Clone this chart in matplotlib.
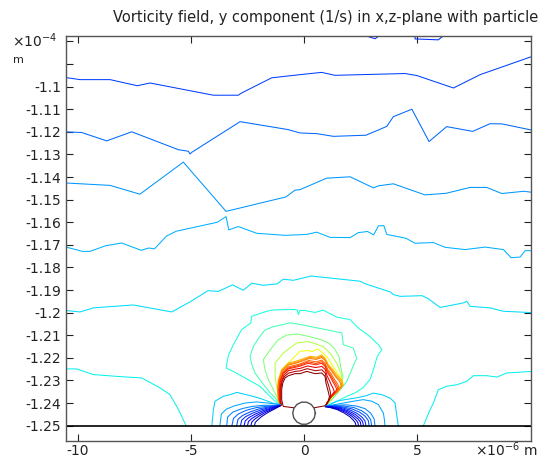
import numpy as np
import matplotlib.pyplot as plt

# x in micrometres (x1e-6 m), z in units of 1e-4 m
# every contour is a list of (x, z) vertices; "lvl" is the position on the colour table (0..1)

# far field, top to bottom
top_frag_1 = [(2.25, -1.0760), (3.14, -1.0788), (3.55, -1.0760)]
top_frag_2 = [(4.91, -1.0760), (4.91, -1.0789), (5.94, -1.0793), (6.35, -1.0760)]
line_a = [(-10.6, -1.0959), (-9.91, -1.0969), (-8.58, -1.0969), (-7.38, -1.0996), (-6.81, -1.0984),
          (-4.01, -1.1038), (-2.91, -1.1038), (-2.76, -1.1028), (-1.43, -1.0961), (-0.18, -1.0947),
          (0.78, -1.0937), (1.37, -1.0950), (4.47, -1.0942), (4.99, -1.0951), (6.61, -1.1006),
          (7.79, -1.0947), (10.1, -1.0866)]
line_b = [(-10.6, -1.1200), (-9.84, -1.1203), (-8.73, -1.1240), (-7.62, -1.1200), (-5.56, -1.1279),
          (-5.12, -1.1286), (-5.04, -1.1298), (-4.97, -1.1291), (-2.83, -1.1155), (-0.71, -1.1190),
          (-0.18, -1.1205), (0.56, -1.1208), (1.30, -1.1220), (2.74, -1.1215), (3.66, -1.1176),
          (3.95, -1.1133), (4.77, -1.1100), (5.53, -1.1243), (6.31, -1.1177), (7.46, -1.1198),
          (8.23, -1.1164), (8.76, -1.1165), (10.1, -1.1193)]
line_c = [(-10.6, -1.1426), (-8.58, -1.1437), (-7.26, -1.1476), (-5.34, -1.1334), (-3.45, -1.1552),
          (-0.80, -1.1488), (-0.40, -1.1458), (-0.18, -1.1456), (1.00, -1.1405), (2.04, -1.1399),
          (3.07, -1.1448), (3.29, -1.1439), (3.95, -1.1430), (5.35, -1.1479), (6.28, -1.1472),
          (7.35, -1.1446), (8.08, -1.1446), (8.75, -1.1473), (9.73, -1.1463), (10.1, -1.1468)]
line_d = [(-10.6, -1.1708), (-9.80, -1.1729), (-9.47, -1.1729), (-8.78, -1.1704), (-8.07, -1.1692),
          (-7.21, -1.1724), (-6.86, -1.1714), (-6.62, -1.1718), (-6.08, -1.1661), (-5.66, -1.1640),
          (-3.83, -1.1600), (-3.45, -1.1575), (-3.33, -1.1634), (-2.91, -1.1619), (-2.09, -1.1649),
          (-0.84, -1.1658), (0.12, -1.1654), (0.56, -1.1644), (1.15, -1.1667), (2.04, -1.1668),
          (2.40, -1.1646), (2.81, -1.1641), (3.08, -1.1656), (3.29, -1.1616), (3.53, -1.1615),
          (3.66, -1.1654), (4.51, -1.1671), (4.91, -1.1693), (5.72, -1.1690), (6.24, -1.1711),
          (7.12, -1.1721), (8.01, -1.1710), (8.82, -1.1721), (9.16, -1.1757), (9.56, -1.1754),
          (9.78, -1.1726), (10.1, -1.1726)]
line_e = [(-10.6, -1.1990), (-9.91, -1.1997), (-9.32, -1.1979), (-7.55, -1.1966), (-5.85, -1.1997),
          (-5.02, -1.1951), (-4.25, -1.1903), (-3.79, -1.1906), (-3.16, -1.1877), (-2.69, -1.1901),
          (-2.31, -1.1870), (-1.80, -1.1879), (-1.19, -1.1873), (-0.92, -1.1852), (-0.47, -1.1857),
          (0.31, -1.1838), (2.48, -1.1861), (2.70, -1.1872), (3.83, -1.1909), (3.95, -1.1920),
          (4.25, -1.1928), (5.22, -1.1925), (5.49, -1.1938), (6.02, -1.1977), (7.05, -1.1957),
          (7.20, -1.1950), (7.35, -1.1972), (8.23, -1.1979), (8.82, -1.1994), (10.1, -1.2000)]
line_f = [(-10.6, -1.2249), (-10.06, -1.2249), (-9.32, -1.2274), (-8.29, -1.2282), (-7.18, -1.2289),
          (-6.37, -1.2333), (-5.93, -1.2363), (-5.63, -1.2415), (-5.41, -1.2459), (-5.22, -1.2500)]
line_g = [(5.28, -1.2500), (5.58, -1.2429), (5.72, -1.2400), (5.94, -1.2341), (6.31, -1.2326),
          (6.76, -1.2319), (7.20, -1.2304), (7.49, -1.2279), (8.08, -1.2279), (8.53, -1.2285),
          (8.97, -1.2267), (10.1, -1.2260)]
far_lines = [top_frag_1, top_frag_2, line_a, line_b, line_c, line_d, line_e, line_f, line_g]
far_lvl = [0.17, 0.17, 0.19, 0.23, 0.27, 0.30, 0.34, 0.36, 0.36]

# contours wrapping over the particle, outer (cyan) to inner (dark red)
cap_cyan = [(-1.06, -1.2407), (-1.28, -1.2392), (-1.58, -1.2363), (-1.95, -1.2326), (-2.61, -1.2289),
            (-3.13, -1.2260), (-3.45, -1.2245), (-3.41, -1.2223), (-3.35, -1.2190), (-3.19, -1.2155),
            (-3.13, -1.2142), (-2.76, -1.2075), (-2.36, -1.2046), (-2.31, -1.2016), (-1.65, -1.1994),
            (-1.36, -1.1988), (-0.47, -1.1986), (-0.30, -1.1988), (-0.25, -1.2009), (-0.18, -1.1990),
            (0.04, -1.1991), (0.49, -1.1999), (0.85, -1.1989), (1.45, -1.2020), (2.04, -1.2031),
            (2.40, -1.2068), (2.92, -1.2106), (3.29, -1.2142), (3.44, -1.2164), (3.24, -1.2193),
            (3.07, -1.2252), (2.92, -1.2296), (2.60, -1.2333), (2.26, -1.2355), (1.89, -1.2370),
            (1.59, -1.2385), (1.30, -1.2400), (0.95, -1.2414)]
cap_teal = [(-1.06, -1.2407), (-1.28, -1.2377), (-1.50, -1.2355), (-1.73, -1.2326), (-1.95, -1.2297),
            (-2.17, -1.2267), (-2.31, -1.2230), (-2.39, -1.2193), (-2.24, -1.2149), (-1.95, -1.2105),
            (-1.73, -1.2077), (-1.35, -1.2062), (-0.60, -1.2045), (-0.18, -1.2052), (0.60, -1.2068),
            (1.20, -1.2080), (1.67, -1.2090), (1.74, -1.2142), (2.18, -1.2157), (2.33, -1.2202),
            (2.11, -1.2252), (1.89, -1.2304), (1.67, -1.2333), (1.30, -1.2377), (0.95, -1.2414)]
cap_green = [(-1.06, -1.2407), (-1.21, -1.2370), (-1.36, -1.2341), (-1.58, -1.2296), (-1.73, -1.2252),
             (-1.80, -1.2208), (-1.50, -1.2165), (-1.14, -1.2120), (-0.77, -1.2099), (-0.30, -1.2095),
             (0.20, -1.2105), (0.70, -1.2118), (1.10, -1.2135), (1.35, -1.2160), (1.55, -1.2195),
             (1.62, -1.2240), (1.72, -1.2285), (1.65, -1.2320), (1.35, -1.2365), (1.10, -1.2395),
             (0.95, -1.2414)]
cap_lime = [(-1.06, -1.2407), (-1.21, -1.2326), (-1.28, -1.2282), (-1.28, -1.2223), (-0.92, -1.2179),
            (-0.32, -1.2134), (0.20, -1.2128), (0.55, -1.2140), (0.85, -1.2150), (1.20, -1.2185),
            (1.45, -1.2225), (1.65, -1.2275), (1.70, -1.2310), (1.40, -1.2355), (1.10, -1.2395),
            (0.95, -1.2414)]
cap_yellow = [(-1.06, -1.2407), (-1.06, -1.2311), (-0.99, -1.2252), (-0.62, -1.2215), (-0.18, -1.2171),
              (0.15, -1.2168), (0.38, -1.2172), (0.60, -1.2160), (0.85, -1.2180), (1.05, -1.2200),
              (1.30, -1.2240), (1.60, -1.2285), (1.72, -1.2318), (1.35, -1.2360), (1.05, -1.2400),
              (0.95, -1.2414)]
red_1 = [(-1.06, -1.2407), (-1.14, -1.2386), (-1.18, -1.2342), (-1.14, -1.2298), (-0.99, -1.2253),
         (-0.69, -1.2223), (-0.40, -1.2216), (-0.18, -1.2209), (0.27, -1.2193), (0.56, -1.2197),
         (0.78, -1.2187), (0.93, -1.2202), (1.08, -1.2231), (1.23, -1.2246), (1.45, -1.2275),
         (1.67, -1.2298), (1.74, -1.2320), (1.52, -1.2348), (1.23, -1.2370), (1.08, -1.2392),
         (0.95, -1.2414)]
red_2 = [(-1.05, -1.2408), (-1.13, -1.2386), (-1.16, -1.2342), (-1.12, -1.2299), (-0.97, -1.2256),
         (-0.69, -1.2228), (-0.40, -1.2221), (-0.18, -1.2214), (0.25, -1.2198), (0.55, -1.2202),
         (0.78, -1.2193), (0.93, -1.2207), (1.07, -1.2236), (1.21, -1.2251), (1.41, -1.2279),
         (1.62, -1.2301), (1.69, -1.2323), (1.48, -1.2350), (1.21, -1.2371), (1.07, -1.2393),
         (0.95, -1.2414)]
red_3 = [(-1.05, -1.2408), (-1.12, -1.2386), (-1.15, -1.2342), (-1.11, -1.2300), (-0.96, -1.2258),
         (-0.69, -1.2232), (-0.40, -1.2225), (-0.18, -1.2218), (0.24, -1.2203), (0.55, -1.2207),
         (0.78, -1.2198), (0.93, -1.2212), (1.07, -1.2240), (1.20, -1.2256), (1.38, -1.2282),
         (1.58, -1.2305), (1.65, -1.2326), (1.45, -1.2352), (1.20, -1.2372), (1.06, -1.2393),
         (0.95, -1.2414)]
red_4 = [(-1.04, -1.2408), (-1.10, -1.2386), (-1.12, -1.2342), (-1.08, -1.2302), (-0.94, -1.2264),
         (-0.69, -1.2240), (-0.40, -1.2233), (-0.18, -1.2227), (0.21, -1.2212), (0.54, -1.2218),
         (0.78, -1.2210), (0.93, -1.2225), (1.05, -1.2252), (1.18, -1.2268), (1.32, -1.2292),
         (1.48, -1.2315), (1.55, -1.2332), (1.38, -1.2356), (1.18, -1.2375), (1.05, -1.2394),
         (0.95, -1.2414)]
red_5 = [(-1.04, -1.2409), (-1.09, -1.2386), (-1.10, -1.2342), (-1.06, -1.2303), (-0.93, -1.2267),
         (-0.69, -1.2245), (-0.40, -1.2238), (-0.18, -1.2232), (0.20, -1.2218), (0.53, -1.2225),
         (0.78, -1.2217), (0.93, -1.2231), (1.04, -1.2258), (1.16, -1.2275), (1.29, -1.2298),
         (1.43, -1.2320), (1.50, -1.2336), (1.34, -1.2358), (1.17, -1.2377), (1.05, -1.2395),
         (0.95, -1.2414)]
red_6 = [(-1.03, -1.2409), (-1.08, -1.2386), (-1.09, -1.2342), (-1.05, -1.2304), (-0.92, -1.2270),
         (-0.69, -1.2249), (-0.40, -1.2242), (-0.18, -1.2237), (0.18, -1.2224), (0.52, -1.2231),
         (0.78, -1.2224), (0.93, -1.2238), (1.03, -1.2265), (1.15, -1.2282), (1.26, -1.2303),
         (1.38, -1.2324), (1.45, -1.2340), (1.30, -1.2360), (1.16, -1.2378), (1.04, -1.2396),
         (0.95, -1.2414)]
red_7 = [(-1.02, -1.2410), (-1.06, -1.2386), (-1.06, -1.2341), (-1.01, -1.2305), (-0.89, -1.2276),
         (-0.69, -1.2257), (-0.40, -1.2250), (-0.18, -1.2247), (0.16, -1.2236), (0.51, -1.2243),
         (0.79, -1.2238), (0.94, -1.2252), (1.02, -1.2280), (1.12, -1.2300), (1.20, -1.2318),
         (1.29, -1.2336), (1.34, -1.2350), (1.22, -1.2366), (1.13, -1.2382), (1.02, -1.2398),
         (0.95, -1.2414)]
red_8 = [(-1.00, -1.2410), (-1.03, -1.2385), (-1.03, -1.2340), (-0.98, -1.2307), (-0.87, -1.2283),
         (-0.69, -1.2268), (-0.40, -1.2260), (-0.18, -1.2258), (0.14, -1.2248), (0.50, -1.2257),
         (0.79, -1.2253), (0.94, -1.2268), (1.00, -1.2296), (1.08, -1.2320), (1.15, -1.2345),
         (1.18, -1.2362), (1.12, -1.2385), (0.95, -1.2413)]
red_9 = [(-0.45, -1.2421), (-0.92, -1.2415), (-0.99, -1.2385), (-0.99, -1.2341), (-0.94, -1.2311),
         (-0.84, -1.2289), (-0.69, -1.2279), (-0.40, -1.2270), (-0.18, -1.2270), (0.12, -1.2260),
         (0.49, -1.2270), (0.78, -1.2267), (0.93, -1.2282), (0.97, -1.2311), (1.05, -1.2341),
         (1.12, -1.2370), (1.08, -1.2392), (0.93, -1.2412), (0.45, -1.2421)]
cap_lines = [cap_cyan, cap_teal, cap_green, cap_lime, cap_yellow,
             red_1, red_2, red_3, red_4, red_5, red_6, red_7, red_8, red_9]
cap_lvl = [0.38, 0.43, 0.50, 0.57, 0.64, 0.72, 0.75, 0.78, 0.81, 0.84, 0.87, 0.91, 0.95, 0.99]

# negative lobes between the particle and the wall, outer (light blue) to inner (navy)
lobe_l = [
    [(-4.08, -1.2500), (-4.01, -1.2429), (-3.94, -1.2392), (-3.57, -1.2370), (-3.27, -1.2363),
     (-2.98, -1.2353), (-2.76, -1.2358), (-2.39, -1.2367), (-1.95, -1.2379), (-1.36, -1.2401), (-1.06, -1.2407)],
    [(-3.72, -1.2500), (-3.66, -1.2449), (-3.45, -1.2428), (-3.10, -1.2413), (-2.60, -1.2400),
     (-2.10, -1.2395), (-1.60, -1.2400), (-1.06, -1.2407)],
    [(-3.42, -1.2500), (-3.38, -1.2462), (-3.15, -1.2440), (-2.75, -1.2425), (-2.30, -1.2415),
     (-1.80, -1.2410), (-1.30, -1.2410), (-1.06, -1.2409)],
    [(-3.19, -1.2500), (-3.12, -1.2468), (-2.90, -1.2448), (-2.55, -1.2432), (-2.10, -1.2420),
     (-1.60, -1.2414), (-1.06, -1.2410)],
    [(-2.98, -1.2500), (-2.92, -1.2472), (-2.72, -1.2455), (-2.40, -1.2440), (-2.00, -1.2426),
     (-1.50, -1.2416), (-1.06, -1.2410)],
    [(-2.81, -1.2500), (-2.76, -1.2476), (-2.58, -1.2460), (-2.28, -1.2445), (-1.90, -1.2430),
     (-1.45, -1.2418), (-1.06, -1.2411)],
    [(-2.65, -1.2500), (-2.60, -1.2479), (-2.45, -1.2465), (-2.18, -1.2450), (-1.82, -1.2434),
     (-1.40, -1.2420), (-1.06, -1.2411)],
    [(-2.50, -1.2500), (-2.46, -1.2482), (-2.32, -1.2469), (-2.08, -1.2454), (-1.75, -1.2437),
     (-1.36, -1.2422), (-1.06, -1.2412)],
    [(-2.35, -1.2500), (-2.31, -1.2484), (-2.19, -1.2472), (-1.98, -1.2457), (-1.68, -1.2440),
     (-1.32, -1.2424), (-1.06, -1.2412)],
    [(-2.19, -1.2500), (-2.16, -1.2486), (-2.05, -1.2475), (-1.88, -1.2460), (-1.60, -1.2442),
     (-1.28, -1.2425), (-1.06, -1.2413)],
]
lobe_r = [
    [(4.17, -1.2500), (4.08, -1.2440), (4.03, -1.2400), (3.81, -1.2378), (3.44, -1.2363),
     (3.07, -1.2356), (2.77, -1.2367), (2.33, -1.2377), (1.81, -1.2385), (1.45, -1.2392), (0.95, -1.2414)],
    [(3.58, -1.2500), (3.55, -1.2470), (3.51, -1.2445), (3.29, -1.2407), (3.00, -1.2392),
     (2.62, -1.2385), (2.18, -1.2392), (1.74, -1.2400), (1.30, -1.2408), (0.95, -1.2414)],
    [(3.14, -1.2500), (3.10, -1.2470), (2.95, -1.2445), (2.70, -1.2425), (2.30, -1.2413),
     (1.85, -1.2408), (1.40, -1.2410), (0.95, -1.2414)],
    [(2.99, -1.2500), (2.95, -1.2474), (2.80, -1.2452), (2.55, -1.2434), (2.20, -1.2420),
     (1.75, -1.2413), (1.35, -1.2412), (0.95, -1.2415)],
    [(2.88, -1.2500), (2.84, -1.2477), (2.70, -1.2458), (2.45, -1.2440), (2.12, -1.2426),
     (1.70, -1.2417), (1.30, -1.2414), (0.95, -1.2415)],
    [(2.74, -1.2500), (2.70, -1.2480), (2.57, -1.2463), (2.35, -1.2446), (2.04, -1.2431),
     (1.65, -1.2420), (1.25, -1.2416), (0.95, -1.2415)],
    [(2.63, -1.2500), (2.59, -1.2482), (2.47, -1.2467), (2.26, -1.2450), (1.97, -1.2435),
     (1.60, -1.2423), (1.22, -1.2417), (0.95, -1.2415)],
    [(2.52, -1.2500), (2.49, -1.2484), (2.38, -1.2470), (2.18, -1.2454), (1.90, -1.2438),
     (1.55, -1.2425), (1.20, -1.2418), (0.95, -1.2416)],
    [(2.41, -1.2500), (2.38, -1.2486), (2.28, -1.2473), (2.10, -1.2457), (1.84, -1.2441),
     (1.50, -1.2427), (1.18, -1.2419), (0.95, -1.2416)],
    [(2.30, -1.2500), (2.27, -1.2488), (2.18, -1.2476), (2.02, -1.2460), (1.77, -1.2444),
     (1.46, -1.2429), (1.15, -1.2420), (0.95, -1.2416)],
]
lobe_lvl = [0.33, 0.29, 0.26, 0.23, 0.20, 0.17, 0.14, 0.11, 0.08, 0.05]

particle_center = (0.0, -1.2445)
particle_radius = 0.5  # micrometres
wall_z = -1.25

yticks = [-1.08, -1.09, -1.1, -1.11, -1.12, -1.13, -1.14, -1.15, -1.16, -1.17, -1.18,
          -1.19, -1.2, -1.21, -1.22, -1.23, -1.24, -1.25]
xticks = [-10, -5, 0, 5]

cmap = plt.get_cmap('jet')

fig = plt.figure(figsize=(5.4, 4.59), dpi=100)
ax = fig.add_axes([66 / 540, 18 / 459, 465 / 540, 405 / 459])


def draw(lines, lvls):
    for pts, lv in zip(lines, lvls):
        p = np.array(pts)
        ax.plot(p[:, 0], p[:, 1], color=cmap(lv), lw=0.75)


draw(far_lines, far_lvl)
draw(cap_lines, cap_lvl)
draw(lobe_l, lobe_lvl)
draw(lobe_r, lobe_lvl)

# particle: round in micrometres, z axis is in 1e-4 m (1 um = 0.01)
t = np.linspace(0, 2 * np.pi, 15)
ax.plot(particle_center[0] + particle_radius * np.cos(t),
        particle_center[1] + particle_radius * 0.01 * np.sin(t), color='#505050', lw=1.0)
ax.axhline(wall_z, color='black', lw=1.2)

ax.set_xlim(-10.53, 10.04)
ax.set_ylim(-1.2568, -1.0776)
ax.set_xticks(xticks)
ax.set_xticklabels([str(v) for v in xticks])
ax.set_yticks(yticks)
ax.set_yticklabels(['' if v > -1.095 else f'{v:g}' for v in yticks])
ax.tick_params(direction='in', length=5, width=0.8, top=True, right=True,
               labelsize=10, colors='#222222')
ax.tick_params(axis='x', pad=2)
for s in ax.spines.values():
    s.set_color('#555555')
    s.set_linewidth(1.0)

fig.text(538 / 540, 1 - 22 / 459, 'Vorticity field, y component (1/s) in x,z-plane with particle',
         ha='right', va='baseline', fontsize=10.5, color='#222222')
fig.text(12 / 540, 1 - 47 / 459, r'$\times$10$^{-4}$', ha='left', va='baseline', fontsize=10, color='#222222')
fig.text(13 / 540, 1 - 63 / 459, 'm', ha='left', va='baseline', fontsize=8, color='#222222')
fig.text(538 / 540, 1 - 456 / 459, r'$\times$10$^{-6}$ m', ha='right', va='baseline', fontsize=10, color='#222222')

fig.savefig('out.png', dpi=100)
